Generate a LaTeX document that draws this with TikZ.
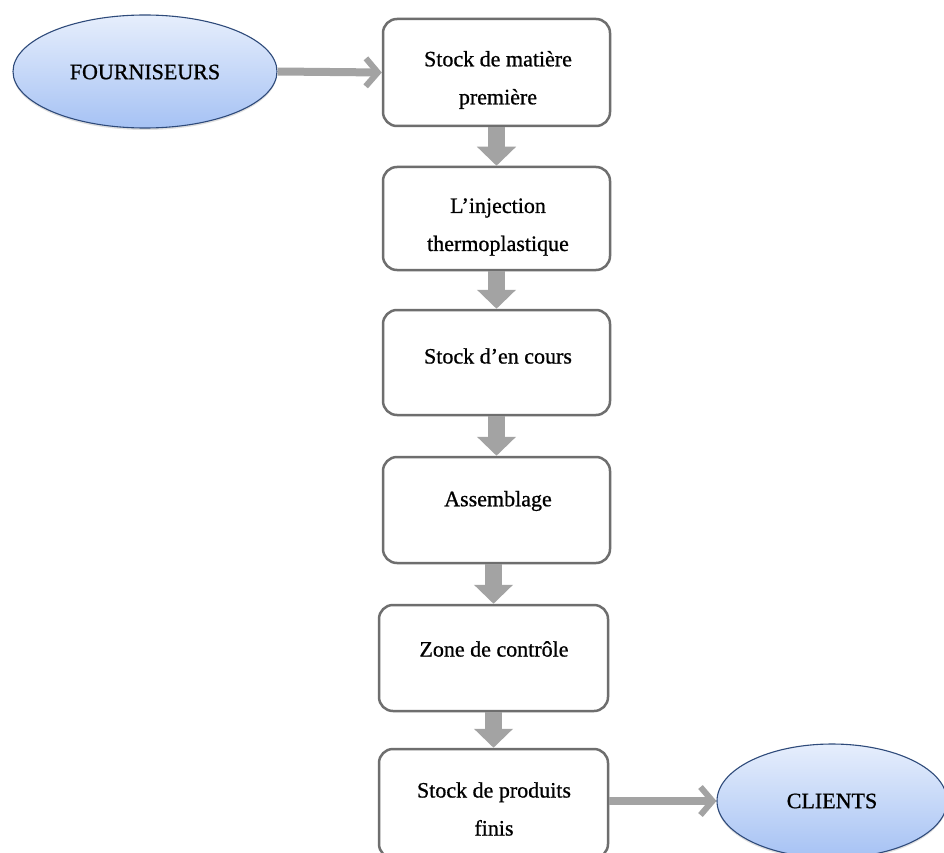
\documentclass[tikz,border=0pt]{standalone}
\usepackage{fontspec}
\setmainfont{Liberation Serif}[FakeBold=0.8]
\usetikzlibrary{arrows.meta,shapes.geometric,shadows}
\definecolor{boxline}{HTML}{6E6E6E}
\definecolor{arrowgray}{HTML}{A3A3A3}
\definecolor{elltop}{HTML}{E6EEFC}
\definecolor{ellbot}{HTML}{A6C2F4}
\definecolor{ellline}{HTML}{2E4A7A}
\tikzset{
  stepbox/.style={draw=boxline, line width=2.5pt, rounded corners=14pt, fill=white, rectangle, inner sep=0pt},
  ovalnode/.style={ellipse, draw=ellline, line width=1.1pt, top color=elltop, bottom color=ellbot, inner sep=0pt,
    drop shadow={opacity=0.25, shadow xshift=0pt, shadow yshift=-2pt}},
  lbl/.style={align=center, inner sep=0pt, text=black, font=\fontsize{22}{38}\selectfont},
  varrow/.style={draw=arrowgray, line width=17pt, -{Triangle[length=19pt,width=38pt]}},
  harrow/.style={draw=arrowgray, line width=8pt, -{Straight Barb[length=12pt,width=28pt,line width=6pt]}}
}
\begin{document}
\begin{tikzpicture}[x=1pt,y=-1pt]
\useasboundingbox[fill=white] (0,0) rectangle (944,853);
% ellipses
\node[ovalnode, minimum width=264pt, minimum height=113pt] (four) at (145,71.5) {};
\node[lbl] (fourt) at (145,72) {FOURNISEURS};
\node[ovalnode, minimum width=230pt, minimum height=114pt] (cli) at (832,801) {};
\node[lbl] (clit) at (832,801) {CLIENTS};
% boxes
\node[stepbox, minimum width=227pt, minimum height=107pt] (b1) at (496.5,72.5) {};
\node[stepbox, minimum width=227pt, minimum height=103pt] (b2) at (496.5,218.5) {};
\node[stepbox, minimum width=227pt, minimum height=105pt] (b3) at (496.5,362.5) {};
\node[stepbox, minimum width=227pt, minimum height=106pt] (b4) at (496.5,510) {};
\node[stepbox, minimum width=229pt, minimum height=106pt] (b5) at (493.5,658) {};
\node[stepbox, minimum width=229pt, minimum height=109pt] (b6) at (493.5,803.5) {};
% texts
\node[lbl] (t1) at (498,80) {Stock de matière\\première};
\node[lbl] (t2) at (498,227) {L’injection\\thermoplastique};
\node[lbl] (t3) at (498,356) {Stock d’en cours};
\node[lbl] (t4) at (498,501) {Assemblage};
\node[lbl] (t5) at (494,649) {Zone de contrôle};
\node[lbl] (t6) at (494,809) {Stock de produits\\finis};
% arrows
\draw[harrow] (four.east) -- (b1.west);
\draw[harrow] (b6.east |- cli.west) -- (cli.west);
\draw[varrow] (b1.south) -- (b2.north);
\draw[varrow] (b2.south) -- (b3.north);
\draw[varrow] (b3.south) -- (b4.north);
\draw[varrow] (b5.north |- b4.south) -- (b5.north);
\draw[varrow] (b5.south) -- (b6.north);
\end{tikzpicture}
\end{document}
